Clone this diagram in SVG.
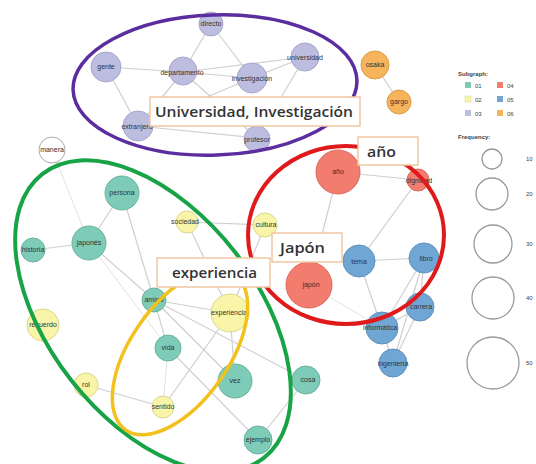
<svg xmlns="http://www.w3.org/2000/svg" width="536" height="464" viewBox="0 0 536 464">
<style>
.e{stroke:#cfcfcf;stroke-width:1.2;fill:none}
.ef{stroke:#e2e2e2;stroke-width:1;fill:none}
.n circle{stroke-width:1}
.c1{fill:#7ecbb8;stroke:#69b3a1}
.c2{fill:#f8f4a8;stroke:#dcd68c}
.c3{fill:#bdbde0;stroke:#a6a6cc}
.c4{fill:#f27d6f;stroke:#d9695c}
.c5{fill:#70a6d3;stroke:#5c90bc}
.c6{fill:#f6b55c;stroke:#dc9c45}
.c0{fill:#ffffff;stroke:#aaaaaa}
.t{font-family:"Liberation Sans",Arial,sans-serif;font-size:7px;fill:#333;text-anchor:middle}
.big{font-family:"Open Sans","Liberation Sans",sans-serif;font-size:15px;font-weight:600;fill:#333}
.box{fill:#ffffff;stroke:#f2c7a2;stroke-width:1.5}
.lg{font-family:"Liberation Sans",Arial,sans-serif;font-size:6px;fill:#444}
.fq{fill:none;stroke:#9a9a9a;stroke-width:1.3}
</style>
<rect width="536" height="464" fill="#ffffff"/>
<g id="connectors">
<line class="e" x1="211" y1="24" x2="183" y2="72"/>
<line class="e" x1="211" y1="24" x2="252" y2="78"/>
<line class="e" x1="106" y1="67" x2="183" y2="72"/>
<line class="e" x1="106" y1="67" x2="138" y2="126"/>
<line class="e" x1="183" y1="72" x2="305" y2="57"/>
<line class="e" x1="183" y1="72" x2="252" y2="78"/>
<line class="e" x1="183" y1="72" x2="138" y2="126"/>
<line class="e" x1="183" y1="72" x2="257" y2="138"/>
<line class="e" x1="252" y1="78" x2="305" y2="57"/>
<line class="e" x1="252" y1="78" x2="138" y2="126"/>
<line class="e" x1="305" y1="57" x2="257" y2="138"/>
<line class="e" x1="138" y1="126" x2="257" y2="138"/>
<line class="e" x1="375" y1="65" x2="399" y2="102"/>
<line class="ef" x1="52" y1="150" x2="89" y2="243"/>
<line class="e" x1="122" y1="193" x2="89" y2="243"/>
<line class="e" x1="122" y1="193" x2="154" y2="300"/>
<line class="e" x1="89" y1="243" x2="33" y2="250"/>
<line class="e" x1="89" y1="243" x2="154" y2="300"/>
<line class="ef" x1="89" y1="243" x2="168" y2="348"/>
<line class="e" x1="187" y1="222" x2="265" y2="225"/>
<line class="e" x1="187" y1="222" x2="230" y2="313"/>
<line class="e" x1="265" y1="225" x2="230" y2="313"/>
<line class="e" x1="338" y1="172" x2="309" y2="285"/>
<line class="e" x1="338" y1="172" x2="418" y2="180"/>
<line class="e" x1="418" y1="180" x2="359" y2="261"/>
<line class="e" x1="154" y1="300" x2="230" y2="313"/>
<line class="e" x1="154" y1="300" x2="168" y2="348"/>
<line class="e" x1="154" y1="300" x2="235" y2="381"/>
<line class="e" x1="154" y1="300" x2="306" y2="380"/>
<line class="e" x1="168" y1="348" x2="258" y2="440"/>
<line class="e" x1="230" y1="313" x2="163" y2="407"/>
<line class="e" x1="230" y1="313" x2="235" y2="381"/>
<line class="e" x1="86" y1="385" x2="163" y2="407"/>
<line class="ef" x1="168" y1="348" x2="163" y2="407"/>
<line class="e" x1="306" y1="380" x2="258" y2="440"/>
<line class="e" x1="359" y1="261" x2="424" y2="258"/>
<line class="e" x1="359" y1="261" x2="382" y2="328"/>
<line class="e" x1="424" y1="258" x2="420" y2="307"/>
<line class="e" x1="424" y1="258" x2="382" y2="328"/>
<line class="e" x1="424" y1="258" x2="393" y2="363"/>
<line class="e" x1="420" y1="307" x2="382" y2="328"/>
<line class="e" x1="420" y1="307" x2="393" y2="363"/>
<line class="e" x1="382" y1="328" x2="393" y2="363"/>
<line class="ef" x1="309" y1="285" x2="382" y2="328"/>
</g>
<g id="n-directo" class="n"><circle class="c3" cx="211" cy="24" r="12"/><text class="t" x="211" y="26">directo</text></g>
<g id="n-gente" class="n"><circle class="c3" cx="106" cy="67" r="15"/><text class="t" x="106" y="69">gente</text></g>
<g id="n-departamento" class="n"><circle class="c3" cx="183" cy="71" r="14"/><text class="t" x="182" y="75">departamento</text></g>
<g id="n-universidad" class="n"><circle class="c3" cx="305" cy="57" r="14"/><text class="t" x="305" y="60">universidad</text></g>
<g id="n-investigacion" class="n"><circle class="c3" cx="252" cy="78" r="15"/><text class="t" x="252" y="81">investigación</text></g>
<g id="n-extranjero" class="n"><circle class="c3" cx="138" cy="126" r="15"/><text class="t" x="137" y="129">extranjero</text></g>
<g id="n-profesor" class="n"><circle class="c3" cx="257" cy="139" r="13"/><text class="t" x="257" y="142">profesor</text></g>
<g id="n-osaka" class="n"><circle class="c6" cx="375" cy="65" r="14"/><text class="t" x="375" y="67">osaka</text></g>
<g id="n-gargo" class="n"><circle class="c6" cx="399" cy="102" r="12"/><text class="t" x="399" y="104">gargo</text></g>
<g id="n-manera" class="n"><circle class="c0" cx="52" cy="150" r="13"/><text class="t" x="52" y="152">manera</text></g>
<g id="n-persona" class="n"><circle class="c1" cx="122" cy="193" r="17"/><text class="t" x="122" y="195">persona</text></g>
<g id="n-japones" class="n"><circle class="c1" cx="89" cy="243" r="17"/><text class="t" x="89" y="245">japonés</text></g>
<g id="n-historia" class="n"><circle class="c1" cx="33" cy="250" r="12"/><text class="t" x="33" y="252">historia</text></g>
<g id="n-sociedad" class="n"><circle class="c2" cx="187" cy="222" r="11"/><text class="t" x="185" y="224">sociedad</text></g>
<g id="n-cultura" class="n"><circle class="c2" cx="265" cy="225" r="12"/><text class="t" x="266" y="227">cultura</text></g>
<g id="n-ano" class="n"><circle class="c4" cx="338" cy="172" r="22"/><text class="t" x="338" y="174">año</text></g>
<g id="n-japon" class="n"><circle class="c4" cx="309" cy="285" r="23"/><text class="t" x="311" y="287">japón</text></g>
<g id="n-dignidad" class="n"><circle class="c4" cx="418" cy="180" r="11"/><text class="t" x="419" y="183">dignidad</text></g>
<g id="n-tema" class="n"><circle class="c5" cx="359" cy="261" r="16"/><text class="t" x="359" y="264">tema</text></g>
<g id="n-libro" class="n"><circle class="c5" cx="424" cy="258" r="15"/><text class="t" x="426" y="261">libro</text></g>
<g id="n-carrera" class="n"><circle class="c5" cx="420" cy="307" r="14"/><text class="t" x="421" y="309">carrera</text></g>
<g id="n-informatica" class="n"><circle class="c5" cx="382" cy="328" r="16"/><text class="t" x="380" y="330">informática</text></g>
<g id="n-ingenieria" class="n"><circle class="c5" cx="393" cy="363" r="14"/><text class="t" x="393" y="366">ingeniería</text></g>
<g id="n-amigo" class="n"><circle class="c1" cx="154" cy="300" r="12"/><text class="t" x="154" y="302">amigo</text></g>
<g id="n-experiencia" class="n"><circle class="c2" cx="230" cy="313" r="19"/><text class="t" x="229" y="315">experiencia</text></g>
<g id="n-vida" class="n"><circle class="c1" cx="168" cy="348" r="13"/><text class="t" x="168" y="350">vida</text></g>
<g id="n-vez" class="n"><circle class="c1" cx="235" cy="381" r="17"/><text class="t" x="235" y="383">vez</text></g>
<g id="n-cosa" class="n"><circle class="c1" cx="306" cy="380" r="14"/><text class="t" x="308" y="382">cosa</text></g>
<g id="n-ejemplo" class="n"><circle class="c1" cx="258" cy="440" r="14"/><text class="t" x="258" y="442">ejemplo</text></g>
<g id="n-sentido" class="n"><circle class="c2" cx="163" cy="407" r="11"/><text class="t" x="163" y="409">sentido</text></g>
<g id="n-rol" class="n"><circle class="c2" cx="86" cy="385" r="12"/><text class="t" x="86" y="387">rol</text></g>
<g id="n-recuerdo" class="n"><circle class="c2" cx="43" cy="325" r="16"/><text class="t" x="43" y="327">recuerdo</text></g>
<g id="groups">
<ellipse cx="215" cy="85" rx="142" ry="70" transform="rotate(-2 215 85)" fill="none" stroke="#5b2d9e" stroke-width="3.5"/>
<ellipse cx="346" cy="235" rx="98" ry="89" fill="none" stroke="#e0191b" stroke-width="4"/>
<ellipse cx="153" cy="316" rx="180" ry="104" transform="rotate(52 153 316)" fill="none" stroke="#19a347" stroke-width="4"/>
<ellipse cx="180" cy="352" rx="95" ry="49" transform="rotate(-55 180 352)" fill="none" stroke="#f2c11c" stroke-width="3.5"/>
</g>
<g id="label-universidad"><rect class="box" x="150" y="97" width="210" height="29"/><text class="big" x="155" y="117" textLength="198" lengthAdjust="spacingAndGlyphs">Universidad, Investigación</text></g>
<g id="label-ano"><rect class="box" x="358" y="137" width="60" height="28"/><text class="big" x="367" y="157" textLength="29" lengthAdjust="spacingAndGlyphs">año</text></g>
<g id="label-japon"><rect class="box" x="272" y="233" width="70" height="29"/><text class="big" x="280" y="253" textLength="45" lengthAdjust="spacingAndGlyphs">Japón</text></g>
<g id="label-experiencia"><rect class="box" x="157" y="258" width="113" height="29"/><text class="big" x="172" y="278" textLength="85" lengthAdjust="spacingAndGlyphs">experiencia</text></g>
<g id="legend">
<text class="lg" x="458" y="76" font-weight="bold">Subgraph:</text>
<rect x="465" y="82" width="6" height="6" fill="#7ecbb8"/><text class="lg" x="475" y="88">01</text>
<rect x="497" y="82" width="6" height="6" fill="#f27d6f"/><text class="lg" x="507" y="88">04</text>
<rect x="465" y="96" width="6" height="6" fill="#f8f4a8" stroke="#dcd68c" stroke-width="0.5"/><text class="lg" x="475" y="102">02</text>
<rect x="497" y="96" width="6" height="6" fill="#70a6d3"/><text class="lg" x="507" y="102">05</text>
<rect x="465" y="110" width="6" height="6" fill="#bdbde0"/><text class="lg" x="475" y="116">03</text>
<rect x="497" y="110" width="6" height="6" fill="#f6b55c"/><text class="lg" x="507" y="116">06</text>
<text class="lg" x="458" y="139" font-weight="bold">Frequency:</text>
<circle class="fq" cx="492" cy="159" r="10"/><text class="lg" x="526" y="161">10</text>
<circle class="fq" cx="492" cy="194" r="16"/><text class="lg" x="526" y="196">20</text>
<circle class="fq" cx="493" cy="244" r="19"/><text class="lg" x="526" y="246">30</text>
<circle class="fq" cx="493" cy="298" r="21"/><text class="lg" x="526" y="300">40</text>
<circle class="fq" cx="493" cy="363" r="26"/><text class="lg" x="526" y="365">50</text>
</g>
</svg>
